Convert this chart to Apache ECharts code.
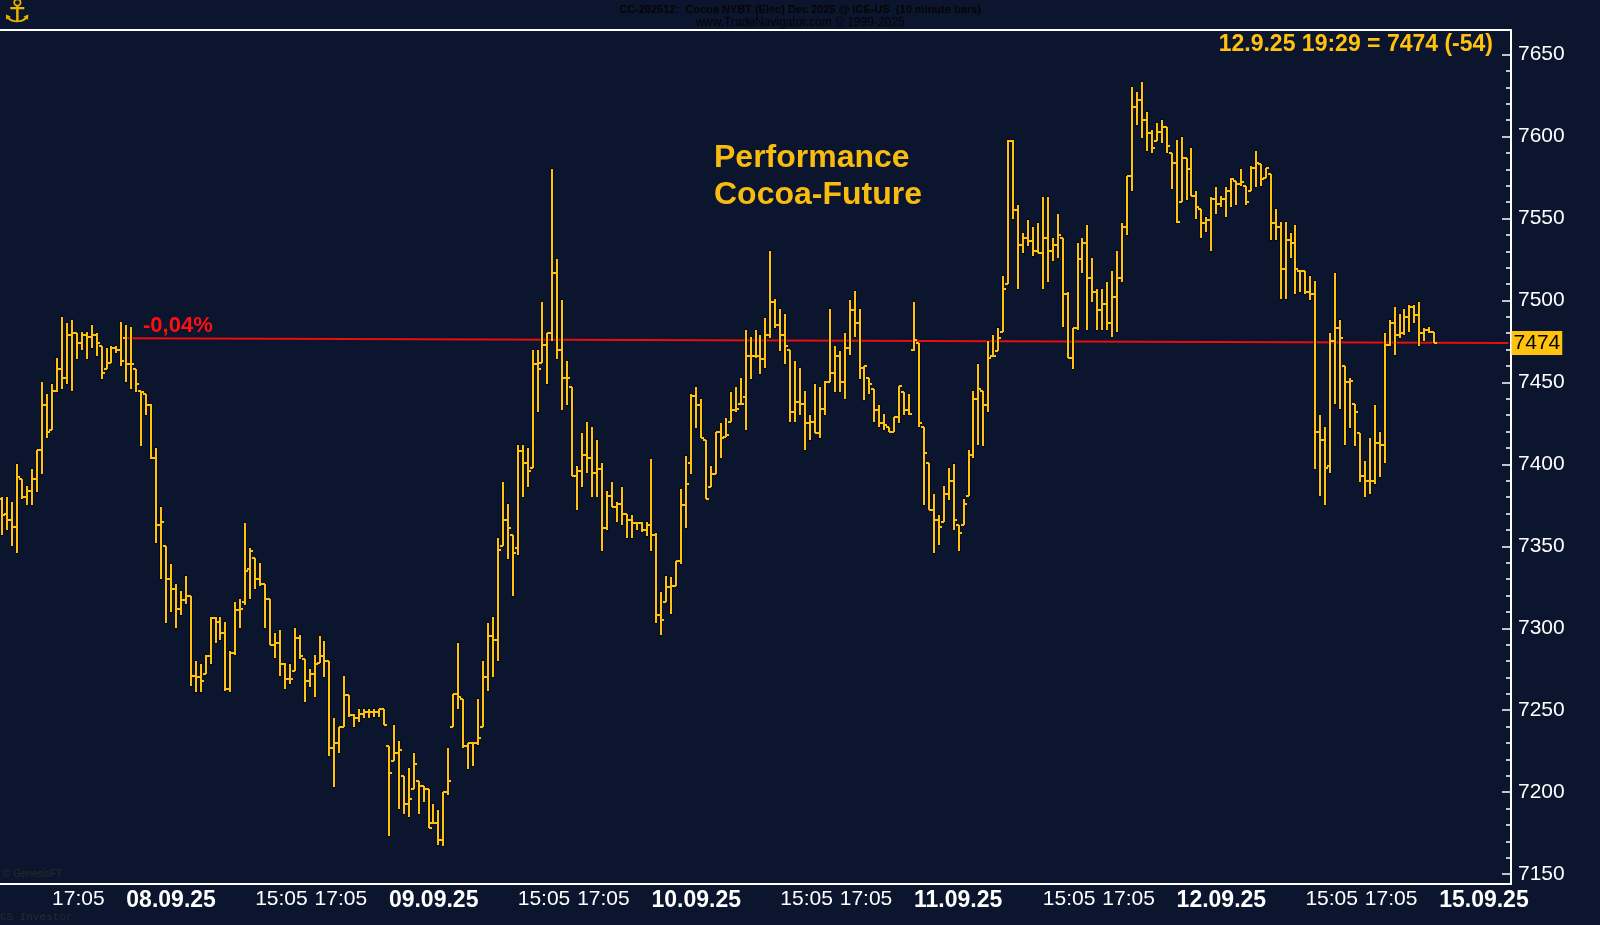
<!DOCTYPE html>
<html><head><meta charset="utf-8">
<script src="https://cdn.jsdelivr.net/npm/echarts@6/dist/echarts.min.js"></script>
<style>html,body{margin:0;padding:0;background:#0c152e;overflow:hidden}#c{width:1600px;height:925px}</style>
</head><body><div id="c"></div>
<script>
// ---------- data ----------
const dayLabels = ['05.09.25','08.09.25','09.09.25','10.09.25','11.09.25','12.09.25'];
const nextDayLabel = '15.09.25';
const firstSlotFirstDay = 28;      // 05.09 starts at 15:25 in view
const padSlots = 15;               // empty slots of 15.09
const timeTickLabels = ['15:05','17:05'];
const yTicks = [7150,7200,7250,7300,7350,7400,7450,7500,7550,7600,7650];
const yMin = 7144, yMax = 7665;
const perfStart = 7477, lastPrice = 7474, lastChange = -54;
const lastStamp = '12.9.25 19:29', perfText = '-0,04%';

// [open, high, low, close] per 10-minute bar
const bars0509 = [
[7379,7380,7357,7369],[7370,7380,7360,7366],[7366,7377,7350,7362],[7362,7400,7346,7392],[7391,7391,7379,7380],
[7380,7387,7375,7384],[7384,7397,7375,7391],[7391,7409,7383,7409],[7409,7450,7394,7436],[7436,7443,7416,7420],
[7421,7449,7421,7445],[7445,7465,7444,7458],[7458,7490,7446,7453],[7453,7486,7449,7479],[7479,7488,7445,7480],
[7480,7480,7464,7474],[7474,7481,7470,7479],[7479,7481,7464,7478],[7478,7485,7471,7479],[7479,7480,7466,7474],
[7472,7472,7452,7456],[7458,7471,7458,7462],[7462,7472,7462,7471],[7471,7472,7468,7470],[7470,7487,7460,7463]];
const bars0809 = [
[7477,7485,7450,7461],[7461,7484,7446,7461],[7458,7458,7444,7449],[7445,7445,7411,7444],[7443,7443,7430,7436],
[7436,7437,7403,7404],[7404,7410,7352,7363],[7363,7374,7330,7365],[7350,7350,7303,7330],[7330,7339,7310,7324],
[7324,7327,7300,7312],[7312,7323,7308,7317],[7317,7332,7315,7320],[7320,7320,7265,7271],[7271,7280,7261,7270],
[7270,7278,7261,7268],[7272,7284,7272,7283],[7283,7307,7278,7306],[7306,7307,7291,7304],[7304,7307,7293,7297],
[7297,7304,7262,7263],[7263,7286,7261,7285],[7285,7316,7284,7311],[7311,7318,7300,7312],[7316,7364,7314,7335],
[7336,7349,7318,7347],[7343,7343,7324,7330],[7330,7340,7326,7327],[7327,7327,7300,7318],[7318,7318,7290,7290],
[7290,7297,7282,7291],[7291,7299,7271,7278],[7278,7279,7263,7269],[7269,7278,7266,7269],[7274,7300,7274,7294],
[7294,7296,7281,7283],[7281,7281,7255,7268],[7268,7275,7264,7272],[7272,7284,7258,7278],[7279,7295,7279,7283],
[7283,7292,7270,7280],[7280,7280,7222,7227],[7227,7245,7203,7230],[7230,7240,7224,7240],[7240,7271,7240,7259],
[7259,7259,7246,7247],[7247,7248,7240,7245],[7245,7251,7243,7248],[7248,7251,7245,7249],[7249,7251,7245,7249],
[7249,7251,7246,7249],[7249,7251,7246,7251],[7251,7251,7241,7241]];
const bars0909 = [
[7228,7228,7173,7212],[7219,7241,7219,7224],[7224,7231,7190,7226],[7210,7210,7187,7193],[7193,7215,7185,7196],
[7202,7224,7202,7217],[7207,7207,7187,7204],[7204,7204,7194,7202],[7202,7202,7178,7178],[7181,7193,7181,7181],
[7181,7189,7168,7171],[7171,7200,7167,7200],[7200,7227,7198,7207],[7240,7260,7240,7260],[7260,7291,7251,7258],
[7257,7257,7227,7228],[7228,7230,7214,7230],[7230,7230,7216,7230],[7230,7257,7229,7233],[7240,7280,7240,7270],
[7270,7303,7262,7295],[7295,7307,7270,7293],[7293,7355,7280,7348],[7350,7389,7350,7366],[7366,7376,7342,7361],
[7357,7357,7320,7346],[7349,7412,7345,7408],[7408,7412,7380,7401],[7401,7410,7386,7396],[7398,7470,7398,7461],
[7461,7470,7432,7458],[7462,7499,7462,7473],[7473,7480,7449,7480],[7480,7580,7475,7517],[7517,7525,7464,7470],
[7470,7500,7433,7453],[7453,7463,7436,7453],[7447,7447,7393,7393],[7393,7399,7372,7396],[7396,7419,7386,7406],
[7406,7426,7395,7404],[7404,7423,7380,7395],[7395,7415,7380,7397],[7397,7401,7347,7361],[7361,7384,7360,7381],
[7381,7389,7374,7374],[7374,7377,7365,7376],[7376,7386,7363,7370],[7370,7370,7355,7366],[7366,7369,7355,7364],
[7364,7365,7360,7364],[7364,7365,7359,7360],[7360,7365,7356,7363]];
const bars1009 = [
[7363,7403,7347,7357],[7357,7358,7303,7308],[7308,7322,7296,7305],[7316,7332,7316,7325],[7325,7331,7309,7326],
[7326,7341,7326,7341],[7341,7385,7339,7375],[7375,7405,7361,7388],[7401,7443,7394,7442],[7442,7447,7422,7436],
[7436,7440,7416,7416],[7415,7415,7379,7379],[7386,7399,7386,7394],[7394,7420,7394,7420],[7420,7425,7404,7416],
[7417,7428,7417,7418],[7426,7444,7426,7433],[7433,7447,7432,7434],[7437,7453,7437,7437],[7441,7482,7421,7466],
[7466,7478,7452,7466],[7466,7482,7465,7466],[7466,7479,7455,7464],[7464,7489,7459,7479],[7479,7530,7477,7499],
[7499,7501,7483,7485],[7485,7495,7469,7479],[7479,7492,7461,7472],[7470,7470,7426,7432],[7432,7463,7426,7438],
[7438,7459,7430,7437],[7437,7445,7409,7425],[7425,7430,7415,7426],[7426,7449,7419,7419],[7419,7447,7416,7434],
[7434,7451,7430,7450],[7450,7495,7450,7456],[7456,7472,7444,7466],[7466,7469,7444,7450],[7450,7480,7440,7471],
[7471,7500,7467,7494],[7494,7506,7478,7486],[7486,7495,7452,7459],[7459,7460,7439,7460],[7453,7453,7443,7449],
[7446,7446,7426,7433],[7433,7436,7423,7425],[7425,7431,7421,7424],[7423,7423,7420,7420],[7420,7429,7420,7429],
[7429,7448,7425,7448],[7444,7444,7430,7433],[7433,7443,7430,7431]];
const bars1109 = [
[7470,7499,7469,7476],[7474,7474,7423,7425],[7423,7423,7375,7407],[7401,7401,7372,7372],[7372,7382,7346,7366],
[7366,7369,7351,7362],[7365,7387,7365,7382],[7382,7398,7378,7390],[7390,7400,7360,7366],[7363,7363,7347,7358],
[7363,7379,7363,7376],[7381,7409,7381,7406],[7406,7445,7404,7440],[7440,7461,7412,7446],[7445,7445,7411,7436],
[7436,7475,7432,7465],[7466,7479,7466,7466],[7469,7483,7469,7477],[7481,7515,7481,7507],[7510,7598,7510,7597],
[7597,7598,7550,7555],[7555,7558,7507,7534],[7534,7541,7529,7538],[7538,7549,7533,7536],[7536,7545,7527,7530],
[7530,7547,7529,7529],[7529,7563,7507,7538],[7538,7563,7511,7530],[7530,7538,7524,7534],[7534,7553,7526,7540],
[7538,7538,7484,7504],[7504,7505,7465,7465],[7465,7483,7458,7483],[7483,7535,7482,7525],[7525,7538,7517,7535],
[7535,7546,7482,7514],[7514,7526,7499,7505],[7505,7507,7482,7494],[7494,7507,7482,7498],[7498,7511,7482,7486],
[7486,7518,7478,7502],[7502,7530,7481,7514],[7514,7547,7511,7545],[7545,7576,7540,7576],[7576,7630,7567,7618],
[7618,7627,7607,7622],[7622,7633,7599,7610],[7610,7615,7591,7602],[7602,7604,7590,7593],[7597,7608,7597,7603],
[7603,7610,7596,7606],[7606,7606,7590,7594],[7590,7590,7568,7584]];
const bars1209 = [
[7584,7598,7547,7548],[7560,7600,7560,7587],[7587,7587,7561,7580],[7580,7593,7564,7564],[7564,7567,7550,7557],
[7556,7556,7538,7547],[7547,7551,7542,7549],[7549,7563,7530,7562],[7562,7569,7553,7559],[7559,7564,7557,7562],
[7562,7569,7551,7567],[7567,7575,7557,7574],[7573,7573,7558,7571],[7571,7580,7570,7572],[7570,7570,7558,7560],
[7567,7582,7567,7581],[7581,7591,7569,7584],[7583,7583,7570,7574],[7575,7581,7575,7581],[7577,7577,7537,7547],
[7547,7556,7537,7545],[7545,7548,7501,7519],[7519,7548,7501,7537],[7537,7541,7526,7535],[7535,7546,7504,7519],
[7518,7518,7505,7518],[7518,7518,7504,7505],[7505,7515,7500,7504],[7504,7512,7397,7420],[7420,7430,7381,7415],
[7415,7423,7375,7398],[7399,7480,7395,7475],[7475,7517,7437,7483],[7483,7488,7434,7477],[7460,7460,7412,7450],
[7450,7453,7422,7451],[7437,7437,7411,7432],[7419,7419,7389,7393],[7393,7402,7380,7390],[7390,7416,7382,7390],
[7390,7436,7388,7413],[7413,7420,7392,7412],[7412,7480,7401,7473],[7473,7488,7472,7486],[7486,7496,7467,7479],
[7479,7492,7477,7480],[7480,7495,7479,7490],[7490,7497,7481,7496],[7496,7497,7486,7491],[7491,7499,7472,7480],
[7480,7483,7475,7482],[7482,7484,7480,7481],[7481,7481,7474,7474]];

// ---------- build categories / series ----------
function slotTime(k){ const m = 10*60+45+10*k; const h=Math.floor(m/60), mm=m%60; return (h<10?'0':'')+h+':'+(mm<10?'0':'')+mm; }
const dayBars = [bars0509,bars0809,bars0909,bars1009,bars1109,bars1209];
const cats = [], ohlc = [];
dayBars.forEach((bars, d) => {
  const k0 = d===0 ? firstSlotFirstDay : 0;
  bars.forEach((b, j) => { const idx = cats.length; cats.push(dayLabels[d]+' '+slotTime(k0+j)); ohlc.push([idx, b[0], b[1], b[2], b[3]]); });
});
for (let k=0;k<padSlots;k++) cats.push(nextDayLabel+' '+slotTime(k));
const perfIdx = dayBars[0].length;   // first bar of 08.09
const perfData = cats.map((c,i)=> i===perfIdx ? perfStart : (i===cats.length-1 ? lastPrice : null));
const minorTicks = []; for (let v=yTicks[0]; v<=yTicks[yTicks.length-1]; v+=10) minorTicks.push(v);

const GOLD = '#FFC20E';
function renderItem(params, api){
  const i = api.value(0);
  const pH = api.coord([i, api.value(2)]), pL = api.coord([i, api.value(3)]);
  const pO = api.coord([i, api.value(1)]), pC = api.coord([i, api.value(4)]);
  const x = Math.round(pH[0]);
  const st = {stroke: GOLD, lineWidth: 2};
  const oy = Math.round(pO[1]), cy = Math.round(pC[1]);
  return {type:'group', children:[
    {type:'line', shape:{x1:x, y1:Math.round(pH[1])-1, x2:x, y2:Math.round(pL[1])+1}, style:{stroke:'#000', lineWidth:3.5, opacity:0.55}},
    {type:'line', shape:{x1:x, y1:Math.round(pH[1]), x2:x, y2:Math.round(pL[1])}, style:st},
    {type:'line', shape:{x1:x-3, y1:oy, x2:x, y2:oy}, style:st},
    {type:'line', shape:{x1:x, y1:cy, x2:x+3, y2:cy}, style:st}
  ]};
}

const FONT = 'Liberation Sans, Arial, sans-serif';
const chart = echarts.init(document.getElementById('c'));
chart.setOption({
  backgroundColor: '#0c152e',
  animation: false,
  grid: {left: 0, right: 89, top: 30, bottom: 41, containLabel: false},
  xAxis: [{
    type: 'category', data: cats, boundaryGap: true, position: 'bottom',
    axisLine: {show: true, lineStyle: {color: '#ffffff', width: 2}},
    axisTick: {show: false}, splitLine: {show: false},
    axisLabel: {
      interval: (i, v) => { const t = v.split(' ')[1]; return t==='10:45' || timeTickLabels.indexOf(t)>=0; },
      formatter: v => { const p = v.split(' '); return p[1]==='10:45' ? '{d|'+p[0]+'}' : '{t|'+p[1]+'}'; },
      align: 'left', margin: 5,
      rich: {
        d: {color:'#ffffff', fontFamily: FONT, fontSize: 23, fontWeight: 'bold'},
        t: {color:'#ffffff', fontFamily: FONT, fontSize: 21}
      }
    }
  },{
    type: 'category', data: cats, position: 'top',
    axisLine: {show: true, lineStyle: {color: '#ffffff', width: 2}},
    axisTick: {show: false}, axisLabel: {show: false}
  }],
  yAxis: [{
    type: 'value', position: 'right', min: yMin, max: yMax, scale: true,
    axisLine: {show: true, lineStyle: {color: '#ffffff', width: 2}},
    axisTick: {show: true, inside: true, length: 9, customValues: yTicks, lineStyle: {color: '#ffffff', width: 1.5}},
    axisLabel: {customValues: yTicks, formatter: v => String(v), color: '#ffffff', fontFamily: FONT, fontSize: 21, margin: 7},
    splitLine: {show: false}
  },{
    type: 'value', position: 'right', min: yMin, max: yMax, scale: true,
    axisLine: {show: false},
    axisTick: {show: true, inside: true, length: 5, customValues: minorTicks, lineStyle: {color: '#ffffff', width: 1.5}},
    axisLabel: {show: false}, splitLine: {show: false}
  }],
  series: [{
    type: 'custom', name: 'Cocoa', renderItem: renderItem, data: ohlc,
    encode: {x: 0, y: [1,2,3,4]}, xAxisIndex: 0, yAxisIndex: 0, z: 3
  },{
    type: 'line', name: 'perf', data: perfData, connectNulls: true, symbol: 'none',
    xAxisIndex: 0, yAxisIndex: 0, z: 2,
    lineStyle: {color: '#e8100e', width: 2},
    endLabel: {show: true, formatter: String(lastPrice), distance: 3, color: '#000000',
      backgroundColor: '#FFC20E', fontFamily: FONT, fontSize: 21, padding: [2,2,1,2]}
  }],
  graphic: [
    {type:'text', left: 'center', top: 4, style:{text:'CC-202512:  Cocoa NYBT (Elec) Dec 2025 @ ICE-US  (10 minute bars)', fill:'#050505', font:'bold 11px Liberation Sans Narrow, Liberation Sans, Arial', textAlign:'center'}},
    {type:'text', left: 'center', top: 17, style:{text:'www.TradeNavigator.com \u00a9 1999-2025', fill:'#050505', font:'12px Liberation Sans Narrow, Liberation Sans, Arial', textAlign:'center'}},
    {type:'text', left: 3, top: -2, style:{text:'\u2693', fill:'#E8B400', font:'bold 32px DejaVu Sans'}},
    {type:'text', right: 1600-1493, top: 33, style:{text: lastStamp+' = '+lastPrice+' ('+lastChange+')', fill: GOLD, font:'bold 23px '+FONT}},
    {type:'text', left: 714, top: 142, style:{text:'Performance', fill: '#F8BC10', font:'bold 32px '+FONT}},
    {type:'text', left: 714, top: 179, style:{text:'Cocoa-Future', fill: '#F8BC10', font:'bold 32px '+FONT}},
    {type:'text', left: 143, top: 315, style:{text: perfText, fill: '#ff1010', font:'bold 22px '+FONT}},
    {type:'text', left: 3, top: 869, style:{text:'\u00a9 GenesisFT', fill:'#2a2a2a', font:'10px Liberation Sans Narrow, Liberation Sans, Arial'}},
    {type:'text', left: 0, top: 912, style:{text:'CS Investor', fill:'#2a2a2a', font:'11px Liberation Mono, monospace'}}
  ]
});
</script></body></html>
